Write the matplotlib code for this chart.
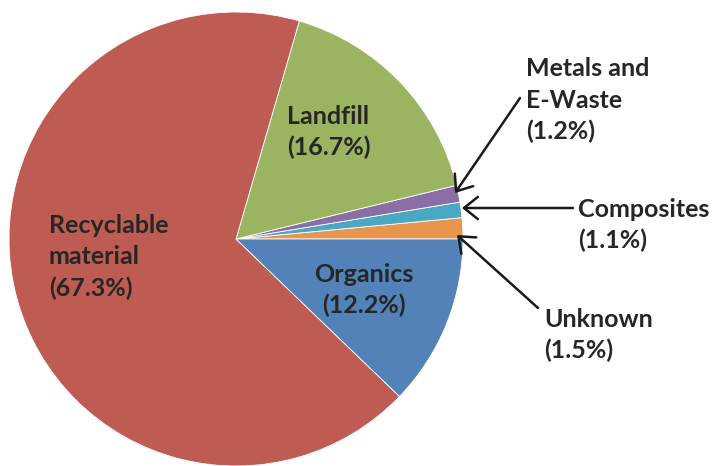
import matplotlib.pyplot as plt
from matplotlib.patches import FancyArrowPatch

# slice data, counter-clockwise from the 3 o'clock direction
labels = ['Unknown', 'Composites', 'Metals and\nE-Waste', 'Landfill',
          'Recyclable\nmaterial', 'Organics']
shares = [1.5, 1.1, 1.2, 16.7, 67.3, 12.2]
colors = ['#E8964E', '#4BA8C2', '#8A6EA6', '#9BB461', '#BE5B52', '#5282B8']

W, H = 713, 466
fig = plt.figure(figsize=(W / 100, H / 100), dpi=100)
ax = fig.add_axes([0, 0, 1, 1])

cx, cy, r = 236, H - 239, 227
ax.pie(shares, colors=colors, startangle=0, counterclock=True,
       center=(cx, cy), radius=r, frame=True,
       wedgeprops=dict(edgecolor='white', linewidth=0.6))
ax.set_xlim(0, W)
ax.set_ylim(0, H)
ax.set_aspect('equal')
ax.axis('off')

txt = dict(fontsize=18, fontweight='bold', color='#262626', family='Lato')
LINE = 31.5  # px between baselines


def label(x, y, s, ha='left'):
    # x, first baseline y in pixel coords from top-left
    for i, line in enumerate(s.split('\n')):
        ax.text(x, H - (y + i * LINE), line, ha=ha, va='baseline', **txt)


label(49, 233, f'{labels[4]}\n({shares[4]}%)')
label(287, 124, f'{labels[3]}\n({shares[3]}%)')
label(364, 282, f'{labels[5]}\n({shares[5]}%)', ha='center')
label(526, 76, f'{labels[2]}\n({shares[2]}%)')
label(578, 217, f'{labels[1]}\n({shares[1]}%)')
label(544, 327, f'{labels[0]}\n({shares[0]}%)')

arrows = [((520, 98), (455, 193)),
          ((573, 208), (462, 208)),
          ((538, 308), (457, 235))]
for (x0, y0), (x1, y1) in arrows:
    ax.add_patch(FancyArrowPatch((x0, H - y0), (x1, H - y1),
                                 arrowstyle='->,head_length=10,head_width=8',
                                 color='#1a1a1a', lw=1.8,
                                 shrinkA=0, shrinkB=0))

fig.savefig('out.png', dpi=100)
